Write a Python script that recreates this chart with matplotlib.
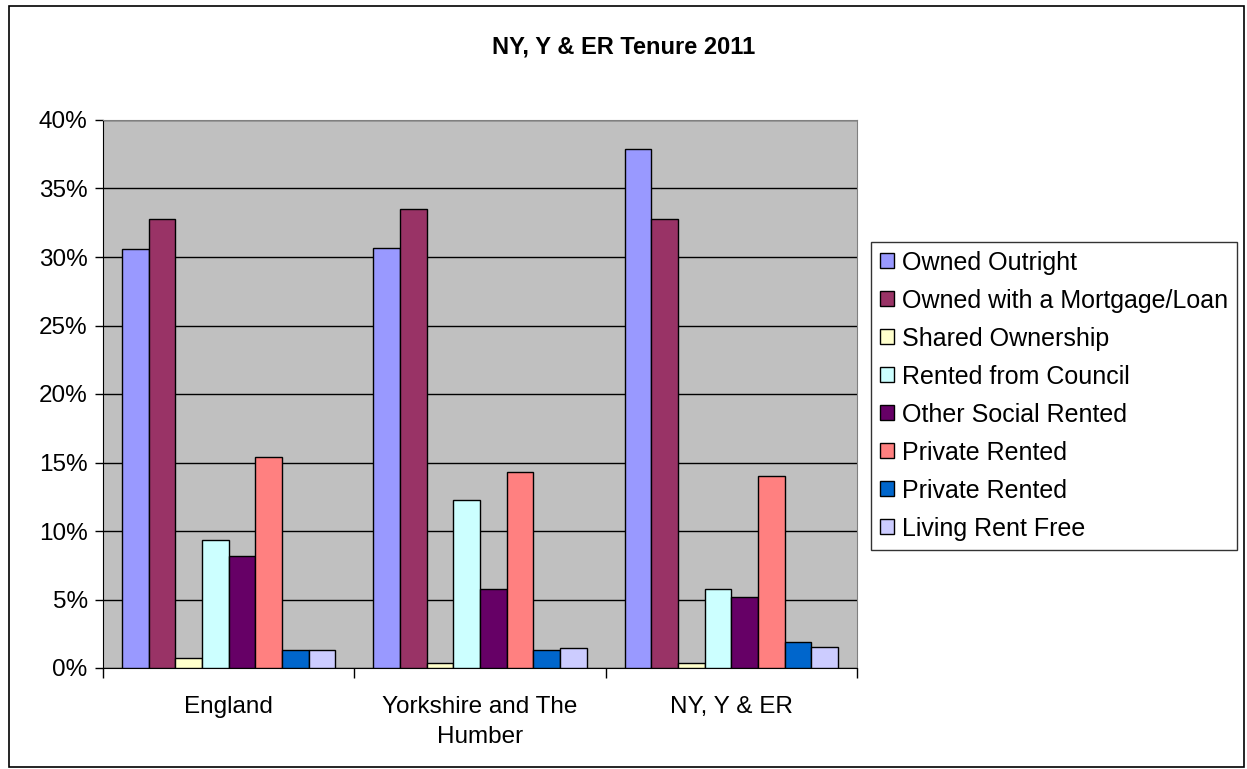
import matplotlib
matplotlib.use('Agg')
from matplotlib import pyplot as plt
from matplotlib.patches import Rectangle
import numpy as np

plt.rcParams['font.family'] = ['Liberation Sans', 'DejaVu Sans']

regions = ['England', 'Yorkshire and The\nHumber', 'NY, Y & ER']
series_names = ['Owned Outright', 'Owned with a Mortgage/Loan', 'Shared Ownership',
                'Rented from Council', 'Other Social Rented', 'Private Rented',
                'Private Rented', 'Living Rent Free']
colors = ['#9999FF', '#993366', '#FFFFCC', '#CCFFFF', '#660066', '#FF8080',
          '#0066CC', '#CCCCFF']

owned_outright = [30.55, 30.68, 37.9]
owned_mortgage = [32.77, 33.47, 32.77]
shared_ownership = [0.76, 0.39, 0.37]
rented_council = [9.37, 12.27, 5.77]
other_social = [8.2, 5.74, 5.17]
private_rented = [15.4, 14.33, 14.02]
private_rented_2 = [1.33, 1.3, 1.88]
living_rent_free = [1.33, 1.44, 1.54]

series = [owned_outright, owned_mortgage, shared_ownership, rented_council,
          other_social, private_rented, private_rented_2, living_rent_free]

fig = plt.figure(figsize=(12.47, 7.69), dpi=100)
fig.patches.append(Rectangle((9 / 1247, 0.002), 1235 / 1247, 1 - 0.002 - 6 / 769,
                             transform=fig.transFigure, fill=False,
                             edgecolor='black', linewidth=1.2))

ax = fig.add_axes([103 / 1247, 1 - 668 / 769, 754 / 1247, 548 / 769])
ax.set_facecolor('#C0C0C0')

x = np.arange(len(regions))
width = 0.85 / len(series)
for i, vals in enumerate(series):
    offs = (i - (len(series) - 1) / 2) * width
    ax.bar(x + offs, vals, width, color=colors[i], edgecolor='black',
           linewidth=1.0, label=series_names[i], zorder=3)

ax.set_xlim(-0.5, len(regions) - 0.5)
ax.set_ylim(0, 40)
ax.set_yticks(np.arange(0, 41, 5))
ax.set_yticklabels([f'{v}%' for v in range(0, 41, 5)], fontsize=17.5)
ax.yaxis.grid(True, color='black', linewidth=1.0, zorder=1)
ax.set_axisbelow(True)

ax.set_xticks(x)
ax.set_xticklabels(regions, fontsize=17.5, linespacing=1.5)
ax.tick_params(axis='x', length=0, pad=20)
ax.set_xticks(np.arange(-0.5, len(regions)), minor=True)
ax.tick_params(axis='x', which='minor', length=7, width=1, color='black')
ax.tick_params(axis='y', length=6, width=1, color='black', pad=5)

for s in ['top', 'right']:
    ax.spines[s].set_color('#808080')
for s in ['left', 'bottom']:
    ax.spines[s].set_color('black')

fig.text(0.5, 1 - 47 / 769, 'NY, Y & ER Tenure 2011', ha='center', va='center',
         fontsize=17, fontweight='bold')

leg = ax.legend(loc='upper left', bbox_to_anchor=(871 / 1247, 1 - 242 / 769),
                bbox_transform=fig.transFigure, fontsize=18, frameon=True,
                fancybox=False, edgecolor='black', handlelength=0.55,
                handleheight=0.55, handletextpad=0.35, labelspacing=0.56,
                borderpad=0.35, borderaxespad=0)
leg.get_frame().set_linewidth(1.0)

fig.savefig('out.png', dpi=100)
